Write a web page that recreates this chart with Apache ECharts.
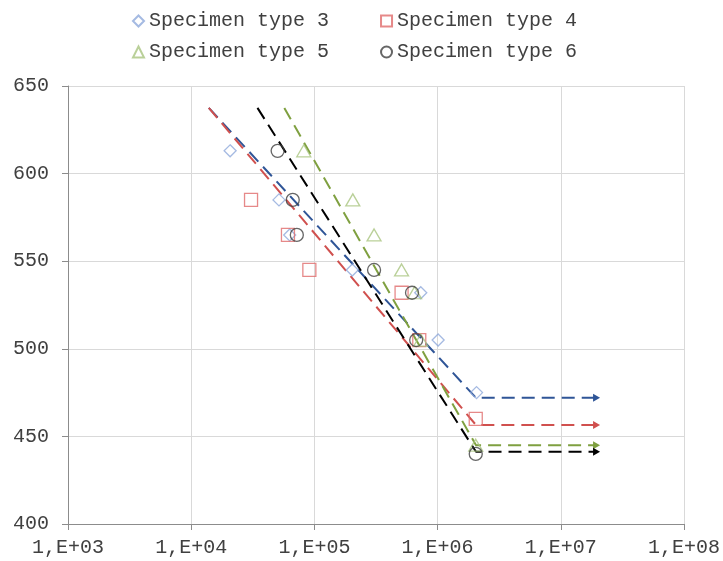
<!DOCTYPE html>
<html>
<head>
<meta charset="utf-8">
<script src="https://cdn.jsdelivr.net/npm/echarts@6/dist/echarts.min.js"></script>
<style>
html,body{margin:0;padding:0;background:#fff;}
#chart{width:723px;height:561px;}
</style>
</head>
<body>
<div id="chart"></div>
<script>
// ---- data ----
var seriesNames = ['Specimen type 3', 'Specimen type 4', 'Specimen type 5', 'Specimen type 6'];

var type3X = [2.07e4, 5.16e4, 6.3e4, 2.03e5, 7.3e5, 1.01e6, 2.07e6];
var type3Y = [613, 585, 565, 545, 532, 505, 475];
var type4X = [3.06e4, 6.1e4, 9.1e4, 5.1e5, 7.1e5, 2.04e6];
var type4Y = [585, 565, 545, 532, 505, 460];
var type5X = [8.2e4, 2.05e5, 3.05e5, 5.1e5, 6.5e5, 7.3e5, 2.04e6];
var type5Y = [613, 585, 565, 545, 532, 505, 445];
var type6X = [5.03e4, 6.67e4, 7.2e4, 3.05e5, 6.2e5, 6.7e5, 2.04e6];
var type6Y = [613, 585, 565, 545, 532, 505, 440];

var fit3X = [1.39e4, 2.05e6, 1.95e7];
var fit3Y = [637.5, 472, 472];
var fit4X = [1.39e4, 2.05e6, 1.95e7];
var fit4Y = [637.5, 456.5, 456.5];
var fit5X = [5.7e4, 2.05e6, 1.95e7];
var fit5Y = [637.5, 445, 445];
var fit6X = [3.45e4, 2.05e6, 1.95e7];
var fit6Y = [637.5, 441.2, 441.2];

var xTickValues = [1e3, 1e4, 1e5, 1e6, 1e7, 1e8];
var xTickLabels = ['1,E+03', '1,E+04', '1,E+05', '1,E+06', '1,E+07', '1,E+08'];
var yTickLabels = ['400', '450', '500', '550', '600', '650'];

// ---- helpers ----
function pairs(xs, ys) {
  return xs.map(function (x, i) { return [x, ys[i]]; });
}
function fitData(xs, ys) {
  var d = pairs(xs, ys).map(function (p) { return { value: p }; });
  d[d.length - 1].symbol = 'triangle';
  d[d.length - 1].symbolSize = [8, 7];
  d[d.length - 1].symbolRotate = -90;
  return d;
}
var FONT = '"Liberation Mono", "DejaVu Sans Mono", monospace';
var textColor = '#404040';

function scatter(name, xs, ys, symbol, size, color) {
  return {
    name: name, type: 'scatter', data: pairs(xs, ys),
    symbol: symbol, symbolSize: size, z: 3,
    itemStyle: { color: 'rgba(0,0,0,0)', borderColor: color, borderWidth: 1.3 }
  };
}
function fitLine(name, xs, ys, color) {
  return {
    name: name, type: 'line', data: fitData(xs, ys),
    symbol: 'none', showSymbol: true, z: 2, silent: true,
    itemStyle: { color: color },
    lineStyle: { color: color, width: 2, type: [13, 7] }
  };
}

var chart = echarts.init(document.getElementById('chart'), null, { renderer: 'canvas' });
var option = {
  animation: false,
  backgroundColor: '#fff',
  grid: { left: 68, right: 39, top: 86, bottom: 37, containLabel: false, outerBoundsMode: 'none' },
  legend: [
    {
      data: [seriesNames[0], seriesNames[1]],
      left: 127, top: 6, itemGap: 51, itemWidth: 11, itemHeight: 11,
      textStyle: { fontFamily: FONT, fontSize: 20, color: textColor }
    },
    {
      data: [seriesNames[2], seriesNames[3]],
      left: 127, top: 37, itemGap: 51, itemWidth: 11, itemHeight: 11,
      textStyle: { fontFamily: FONT, fontSize: 20, color: textColor }
    }
  ],
  xAxis: {
    type: 'log', logBase: 10, min: xTickValues[0], max: xTickValues[xTickValues.length - 1],
    axisLine: { show: true, lineStyle: { color: '#8c8c8c', width: 1 } },
    axisTick: { show: true, length: 6, inside: false, lineStyle: { color: '#8c8c8c' } },
    minorTick: { show: false },
    splitLine: { show: true, lineStyle: { color: '#d9d9d9', width: 1 } },
    axisLabel: {
      margin: 14, fontFamily: FONT, fontSize: 20, color: textColor, showMinLabel: true, showMaxLabel: true,
      formatter: function (v) {
        var idx = xTickValues.findIndex(function (t) { return Math.abs(Math.log10(t) - Math.log10(v)) < 1e-6; });
        return idx >= 0 ? xTickLabels[idx] : '';
      }
    }
  },
  yAxis: {
    type: 'value', min: 400, max: 650, interval: 50,
    axisLine: { show: true, lineStyle: { color: '#8c8c8c', width: 1 } },
    axisTick: { show: true, length: 6, inside: false, lineStyle: { color: '#8c8c8c' } },
    splitLine: { show: true, lineStyle: { color: '#d9d9d9', width: 1 } },
    axisLabel: {
      margin: 19, fontFamily: FONT, fontSize: 20, color: textColor,
      formatter: function (v) {
        var idx = Math.round((v - 400) / 50);
        return yTickLabels[idx] !== undefined ? yTickLabels[idx] : '';
      }
    }
  },
  series: [
    fitLine('fit3', fit3X, fit3Y, '#2f5597'),
    fitLine('fit4', fit4X, fit4Y, '#d0504e'),
    fitLine('fit5', fit5X, fit5Y, '#7fa040'),
    fitLine('fit6', fit6X, fit6Y, '#000000'),
    scatter(seriesNames[0], type3X, type3Y, 'diamond', 12, '#8ea9db'),
    scatter(seriesNames[1], type4X, type4Y, 'rect', 13, '#e06b6b'),
    scatter(seriesNames[2], type5X, type5Y, 'triangle', [14, 12], '#a9c47f'),
    scatter(seriesNames[3], type6X, type6Y, 'circle', 13, '#404040')
  ]
};
chart.setOption(option);
</script>
</body>
</html>
